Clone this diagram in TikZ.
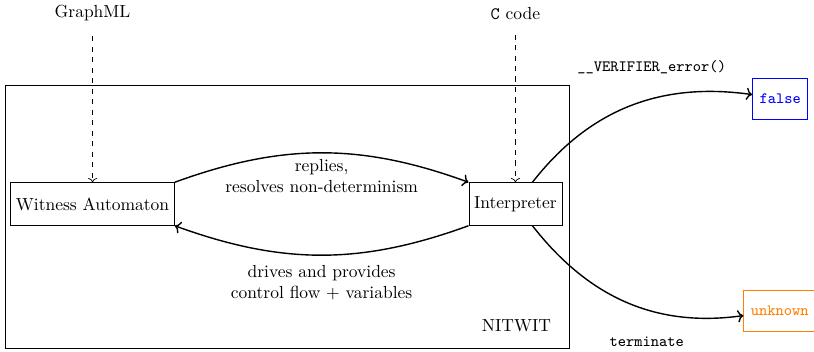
\documentclass[tikz,border=0pt]{standalone}
\usepackage{tikz}
\usetikzlibrary{arrows.meta, positioning}

\begin{document}
\begin{tikzpicture}[
    block/.style={rectangle, draw, minimum height=0.86cm, inner xsep=3pt},
    result/.style={rectangle, draw, minimum height=0.82cm, inner xsep=4pt, font=\small\ttfamily},
    input/.style={->, dashed, shorten <=5pt},
    flow/.style={->, thick},
    lbl/.style={align=center}
]

\useasboundingbox (0,0) rectangle (16.36,7.06);

% checker frame
\node[rectangle, draw, minimum width=11.34cm, minimum height=5.27cm] (nitwit) at (5.77,2.70) {};
\node[above left=0.2cm and 0.25cm of nitwit.south east] (nitwitlabel) {NITWIT};

\node[block] (witness) at (1.86,2.96) {Witness Automaton};
\node[block] (interp) at (10.36,2.96) {Interpreter};

% inputs
\node (graphml) at (1.86,6.79) {GraphML};
\node (ccode) at (10.36,6.79) {\texttt{C} code};

% verdicts
\node[result, draw=blue, text=blue] (false) at (15.68,5.08) {false};
\node[result, draw=orange, text=orange] (unknown) at (15.67,0.82) {unknown};

\draw[input] (graphml) -- (witness);
\draw[input] (ccode) -- (interp);

\draw[flow] (witness.north east) to[bend left=20] node[below, lbl] {replies,\\resolves non-determinism} (interp.north west);
\draw[flow] (interp.south west) to[bend left=20] node[below=0.08cm, lbl] {drives and provides\\control flow + variables} (witness.south east);

\draw[flow] (interp) to[out=52, in=172] node[above=0.38cm, pos=0.6, font=\small\ttfamily] {\_\_VERIFIER\_error()} (false);
\draw[flow] (interp) to[out=-52, in=188] node[below=0.42cm, pos=0.6, font=\small\ttfamily] {terminate} (unknown);

\end{tikzpicture}
\end{document}
